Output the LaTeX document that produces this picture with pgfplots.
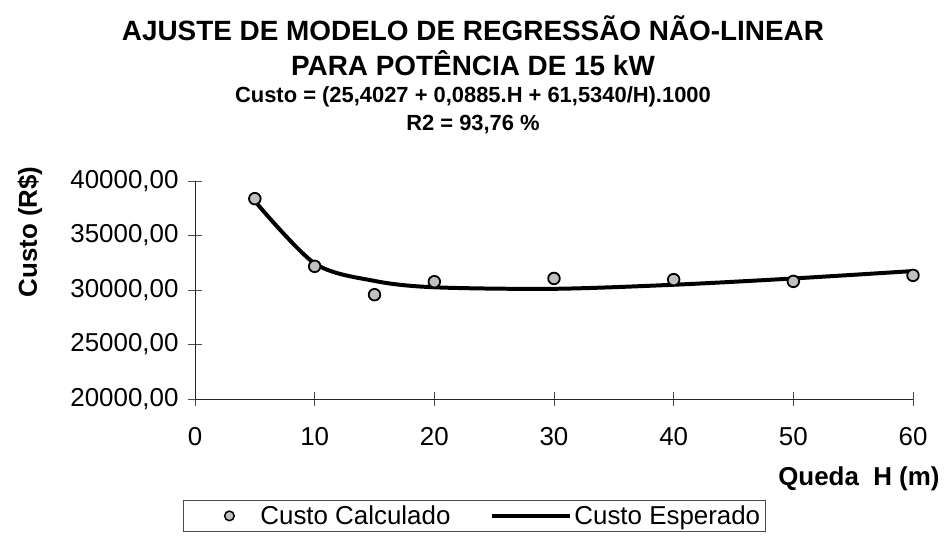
\documentclass[border=0pt]{standalone}
\usepackage{fontspec}
\setmainfont{Liberation Sans}
\usepackage{pgfplots}
\pgfplotsset{compat=1.18}
\definecolor{mk}{RGB}{192,192,192}
\begin{document}
\begin{tikzpicture}[x=1bp,y=1bp]
\useasboundingbox (-195,-140) rectangle (751,399);
\begin{axis}[
  scale only axis, width=718bp, height=218bp,
  at={(0,0)}, anchor=south west,
  xmin=0, xmax=60, ymin=20000, ymax=40000,
  xtick={0,10,...,60}, ytick={20000,25000,...,40000},
  scaled y ticks=false, scaled x ticks=false,
  axis lines*=left,
  axis line style={black!85, line width=0.8pt},
  tick style={black!70, line width=0.8pt},
  tick align=center, major tick length=14bp,
  /pgf/number format/assume math mode=true,
  yticklabel={\pgfmathprintnumber[fixed,fixed zerofill,precision=2,use comma,1000 sep={}]{\tick}},
  xticklabel={\pgfmathprintnumber[fixed,precision=0]{\tick}},
  ticklabel style={font=\fontsize{26}{30}\selectfont},
  yticklabel style={xshift=-6bp},
  xticklabel style={yshift=-18bp},
  legend columns=2,
  legend style={at={(-0.0167,-0.465)}, anchor=north west, draw=black!70, line width=0.8pt,
    font=\fontsize{26}{30}\selectfont, inner xsep=3bp, inner ysep=3bp,
    /tikz/every even column/.append style={column sep=38bp}},
  legend cell align=left,
  clip=false,
]
\addplot[only marks, mark=*, mark size=5.8bp, mark options={fill=mk, draw=black, line width=1.8pt},
  legend image code/.code={\path[draw=none, fill=none] (0,-6bp) rectangle (72bp,6bp);
    \draw[mark size=4.8bp, mark options={fill=mk, draw=black, line width=1.5pt}] plot coordinates {(43bp,0)};}]
  coordinates {(5,38380) (10,32170) (15,29570) (20,30760) (30,31060) (40,30950) (50,30790) (60,31340)};
\addlegendentry{Custo Calculado}
\addplot[black, line width=4pt, smooth, tension=0.5,
  legend image code/.code={\draw[black, line width=4pt] (0,0) -- (78bp,0);}]
  coordinates {(5,38152) (10,32441) (15,30833) (20,30249) (30,30109) (40,30481) (50,31058) (60,31738)};
\addlegendentry{Custo Esperado}
\end{axis}
\node[font=\fontsize{28}{32}\selectfont\bfseries] at (278,371) {AJUSTE DE MODELO DE REGRESSÃO NÃO-LINEAR};
\node[font=\fontsize{28}{32}\selectfont\bfseries] at (278,336) {PARA POTÊNCIA DE 15 kW};
\node[font=\fontsize{22}{26}\selectfont\bfseries] at (278,302) {Custo = (25,4027 + 0,0885.H + 61,5340/H).1000};
\node[font=\fontsize{22}{26}\selectfont\bfseries] at (278,274) {R2 = 93,76 \%};
\node[font=\fontsize{26}{30}\selectfont\bfseries, rotate=90] at (-165,167) {Custo (R\$)};
\node[font=\fontsize{26}{30}\selectfont\bfseries, anchor=east] at (748,-80) {Queda\ \ H (m)};
\end{tikzpicture}
\end{document}
